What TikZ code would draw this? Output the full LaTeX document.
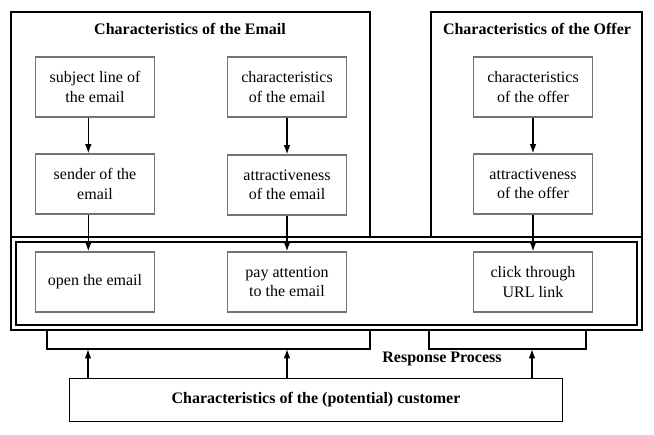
\documentclass[tikz,border=0pt]{standalone}
\usepackage{fontspec}
\setmainfont{Liberation Serif}
\usetikzlibrary{arrows.meta, positioning}

\begin{document}
\begin{tikzpicture}[
    x=0.75pt, y=-0.75pt,
    every node/.style={font=\fontsize{12}{14.5}\selectfont, align=center},
    stepbox/.style={draw=black!55, line width=0.8pt, minimum width=89pt, minimum height=45pt, inner sep=2pt},
    frame/.style={draw, line width=1.1pt},
    flow/.style={-{Latex[length=7pt, width=5pt]}, line width=1.1pt},
    heading/.style={font=\fontsize{12}{14.5}\selectfont\bfseries}
]
\useasboundingbox (0,0) rectangle (654,435);
% outer frames
\draw[frame] (11,12) rectangle (370,237);
\draw[frame] (431,12) rectangle (642,237);
\draw[frame] (11,237) rectangle (642,330);
\draw[line width=1.8pt] (16,242) rectangle (637,325);
\node[heading] (emailT) at (190,29) {Characteristics of the Email};
\node[heading] (offerT) at (537,29) {Characteristics of the Offer};
% email and offer boxes
\node[stepbox] (subj) at (95,87) {subject line of\\the email};
\node[stepbox] (sender) at (95,184) {sender of the\\email};
\node[stepbox] (echar) at (287,87) {characteristics\\of the email};
\node[stepbox] (eattr) at (287,185) {attractiveness\\of the email};
\node[stepbox] (ochar) at (533,87) {characteristics\\of the offer};
\node[stepbox] (oattr) at (533,184) {attractiveness\\of the offer};
% response process
\node[stepbox] (open) at (95,282) {open the email};
\node[stepbox] (pay) at (287,282) {pay attention\\to the email};
\node[stepbox] (click) at (533,282) {click through\\URL link};
\draw[flow] ([xshift=-5pt]subj.south) -- ([xshift=-5pt]sender.north);
\draw[flow] ([xshift=-5pt]sender.south) -- ([xshift=-5pt]open.north);
\draw[flow] (echar) -- (eattr);
\draw[flow] (eattr) -- (pay);
\draw[flow] (ochar) -- (oattr);
\draw[flow] (oattr) -- (click);
% brackets
\draw[line width=1.1pt] (47,330) |- (370,349) -- (370,330);
\draw[line width=1.1pt] (429,330) |- (586,349) -- (586,330);
\node[heading] (resp) at (442,359) {Response Process};
% customer
\node[draw, line width=0.8pt, minimum width=370pt, minimum height=32pt, heading] (cust) at (316,400) {Characteristics of the (potential) customer};
\coordinate (in1) at (88,349);
\coordinate (in2) at (287,349);
\coordinate (in3) at (532,349);
\draw[flow] (cust.north -| in1) -- (in1);
\draw[flow] (cust.north -| in2) -- (in2);
\draw[flow] (cust.north -| in3) -- (in3);
\end{tikzpicture}
\end{document}
